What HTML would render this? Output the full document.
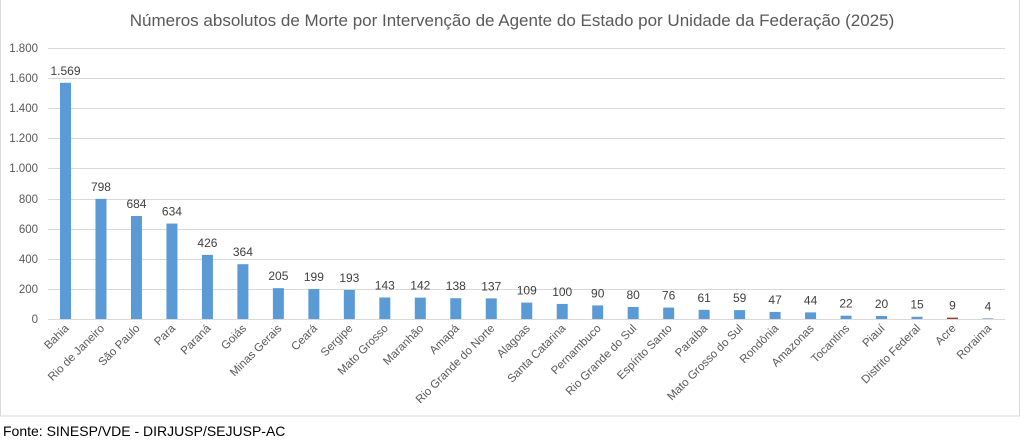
<!DOCTYPE html>
<html><head><meta charset="utf-8"><style>
html,body{margin:0;padding:0;background:#fff;}
svg{display:block;font-family:"Liberation Sans",sans-serif;}
.v{font-size:12px;fill:#404040;text-anchor:middle}
.x{font-size:11.5px;fill:#595959;text-anchor:end}
.b{fill:#5b9bd5}
</style></head><body>
<svg width="1025" height="441" viewBox="0 0 1025 441" xmlns="http://www.w3.org/2000/svg">
<rect x="0.5" y="-1" width="1019" height="417" fill="#fff" stroke="#d9d9d9"/>
<text x="512" y="26" text-anchor="middle" font-size="17" fill="#595959">Números absolutos de Morte por Intervenção de Agente do Estado por Unidade da Federação (2025)</text>
<g stroke="#d9d9d9" stroke-width="1">
<line x1="48" x2="1005" y1="319.5" y2="319.5"/>
<line x1="48" x2="1005" y1="289.5" y2="289.5"/>
<line x1="48" x2="1005" y1="259.5" y2="259.5"/>
<line x1="48" x2="1005" y1="229.5" y2="229.5"/>
<line x1="48" x2="1005" y1="199.5" y2="199.5"/>
<line x1="48" x2="1005" y1="168.5" y2="168.5"/>
<line x1="48" x2="1005" y1="138.5" y2="138.5"/>
<line x1="48" x2="1005" y1="108.5" y2="108.5"/>
<line x1="48" x2="1005" y1="78.5" y2="78.5"/>
<line x1="48" x2="1005" y1="48.5" y2="48.5"/>
</g>
<g font-size="11.5" fill="#595959" text-anchor="end">
<text x="38" y="323">0</text>
<text x="38" y="293">200</text>
<text x="38" y="263">400</text>
<text x="38" y="233">600</text>
<text x="38" y="203">800</text>
<text x="38" y="172">1.000</text>
<text x="38" y="142">1.200</text>
<text x="38" y="112">1.400</text>
<text x="38" y="82">1.600</text>
<text x="38" y="52">1.800</text>
</g>
<g transform="translate(65.5,0)"><rect class="b" x="-5.5" y="82.78" width="11" height="236.22"/><text class="v" y="74.8">1.569</text><text class="x" transform="translate(4,329) rotate(-45)">Bahia</text></g>
<g transform="translate(100.98,0)"><rect class="b" x="-5.5" y="198.86" width="11" height="120.14"/><text class="v" y="190.9">798</text><text class="x" transform="translate(4,329) rotate(-45)">Rio de Janeiro</text></g>
<g transform="translate(136.46,0)"><rect class="b" x="-5.5" y="216.02" width="11" height="102.98"/><text class="v" y="208">684</text><text class="x" transform="translate(4,329) rotate(-45)">São Paulo</text></g>
<g transform="translate(171.94,0)"><rect class="b" x="-5.5" y="223.55" width="11" height="95.45"/><text class="v" y="215.5">634</text><text class="x" transform="translate(4,329) rotate(-45)">Para</text></g>
<g transform="translate(207.42,0)"><rect class="b" x="-5.5" y="254.86" width="11" height="64.14"/><text class="v" y="246.9">426</text><text class="x" transform="translate(4,329) rotate(-45)">Paraná</text></g>
<g transform="translate(242.9,0)"><rect class="b" x="-5.5" y="264.2" width="11" height="54.8"/><text class="v" y="256.2">364</text><text class="x" transform="translate(4,329) rotate(-45)">Goiás</text></g>
<g transform="translate(278.38,0)"><rect class="b" x="-5.5" y="288.14" width="11" height="30.86"/><text class="v" y="280.1">205</text><text class="x" transform="translate(4,329) rotate(-45)">Minas Gerais</text></g>
<g transform="translate(313.86,0)"><rect class="b" x="-5.5" y="289.04" width="11" height="29.96"/><text class="v" y="281">199</text><text class="x" transform="translate(4,329) rotate(-45)">Ceará</text></g>
<g transform="translate(349.34,0)"><rect class="b" x="-5.5" y="289.94" width="11" height="29.06"/><text class="v" y="281.9">193</text><text class="x" transform="translate(4,329) rotate(-45)">Sergipe</text></g>
<g transform="translate(384.82,0)"><rect class="b" x="-5.5" y="297.47" width="11" height="21.53"/><text class="v" y="289.5">143</text><text class="x" transform="translate(4,329) rotate(-45)">Mato Grosso</text></g>
<g transform="translate(420.3,0)"><rect class="b" x="-5.5" y="297.62" width="11" height="21.38"/><text class="v" y="289.6">142</text><text class="x" transform="translate(4,329) rotate(-45)">Maranhão</text></g>
<g transform="translate(455.78,0)"><rect class="b" x="-5.5" y="298.22" width="11" height="20.78"/><text class="v" y="290.2">138</text><text class="x" transform="translate(4,329) rotate(-45)">Amapá</text></g>
<g transform="translate(491.26,0)"><rect class="b" x="-5.5" y="298.37" width="11" height="20.63"/><text class="v" y="290.4">137</text><text class="x" transform="translate(4,329) rotate(-45)">Rio Grande do Norte</text></g>
<g transform="translate(526.74,0)"><rect class="b" x="-5.5" y="302.59" width="11" height="16.41"/><text class="v" y="294.6">109</text><text class="x" transform="translate(4,329) rotate(-45)">Alagoas</text></g>
<g transform="translate(562.22,0)"><rect class="b" x="-5.5" y="303.94" width="11" height="15.06"/><text class="v" y="295.9">100</text><text class="x" transform="translate(4,329) rotate(-45)">Santa Catarina</text></g>
<g transform="translate(597.7,0)"><rect class="b" x="-5.5" y="305.45" width="11" height="13.55"/><text class="v" y="297.4">90</text><text class="x" transform="translate(4,329) rotate(-45)">Pernambuco</text></g>
<g transform="translate(633.18,0)"><rect class="b" x="-5.5" y="306.96" width="11" height="12.04"/><text class="v" y="299">80</text><text class="x" transform="translate(4,329) rotate(-45)">Rio Grande do Sul</text></g>
<g transform="translate(668.66,0)"><rect class="b" x="-5.5" y="307.56" width="11" height="11.44"/><text class="v" y="299.6">76</text><text class="x" transform="translate(4,329) rotate(-45)">Espírito Santo</text></g>
<g transform="translate(704.14,0)"><rect class="b" x="-5.5" y="309.82" width="11" height="9.18"/><text class="v" y="301.8">61</text><text class="x" transform="translate(4,329) rotate(-45)">Paraíba</text></g>
<g transform="translate(739.62,0)"><rect class="b" x="-5.5" y="310.12" width="11" height="8.88"/><text class="v" y="302.1">59</text><text class="x" transform="translate(4,329) rotate(-45)">Mato Grosso do Sul</text></g>
<g transform="translate(775.1,0)"><rect class="b" x="-5.5" y="311.92" width="11" height="7.08"/><text class="v" y="303.9">47</text><text class="x" transform="translate(4,329) rotate(-45)">Rondônia</text></g>
<g transform="translate(810.58,0)"><rect class="b" x="-5.5" y="312.38" width="11" height="6.62"/><text class="v" y="304.4">44</text><text class="x" transform="translate(4,329) rotate(-45)">Amazonas</text></g>
<g transform="translate(846.06,0)"><rect class="b" x="-5.5" y="315.69" width="11" height="3.31"/><text class="v" y="307.7">22</text><text class="x" transform="translate(4,329) rotate(-45)">Tocantins</text></g>
<g transform="translate(881.54,0)"><rect class="b" x="-5.5" y="315.99" width="11" height="3.01"/><text class="v" y="308">20</text><text class="x" transform="translate(4,329) rotate(-45)">Piauí</text></g>
<g transform="translate(917.02,0)"><rect class="b" x="-5.5" y="316.74" width="11" height="2.26"/><text class="v" y="308.7">15</text><text class="x" transform="translate(4,329) rotate(-45)">Distrito Federal</text></g>
<g transform="translate(952.5,0)"><rect x="-5.5" y="317.64" width="11" height="1.36" fill="#9e3a26"/><text class="v" y="309.6">9</text><text class="x" transform="translate(4,329) rotate(-45)">Acre</text></g>
<g transform="translate(987.98,0)"><rect class="b" x="-5.5" y="318.4" width="11" height="0.6"/><text class="v" y="310.4">4</text><text class="x" transform="translate(4,329) rotate(-45)">Roraima</text></g>
<text x="3" y="436" font-size="14" fill="#000">Fonte: SINESP/VDE - DIRJUSP/SEJUSP-AC</text>
</svg>
</body></html>
